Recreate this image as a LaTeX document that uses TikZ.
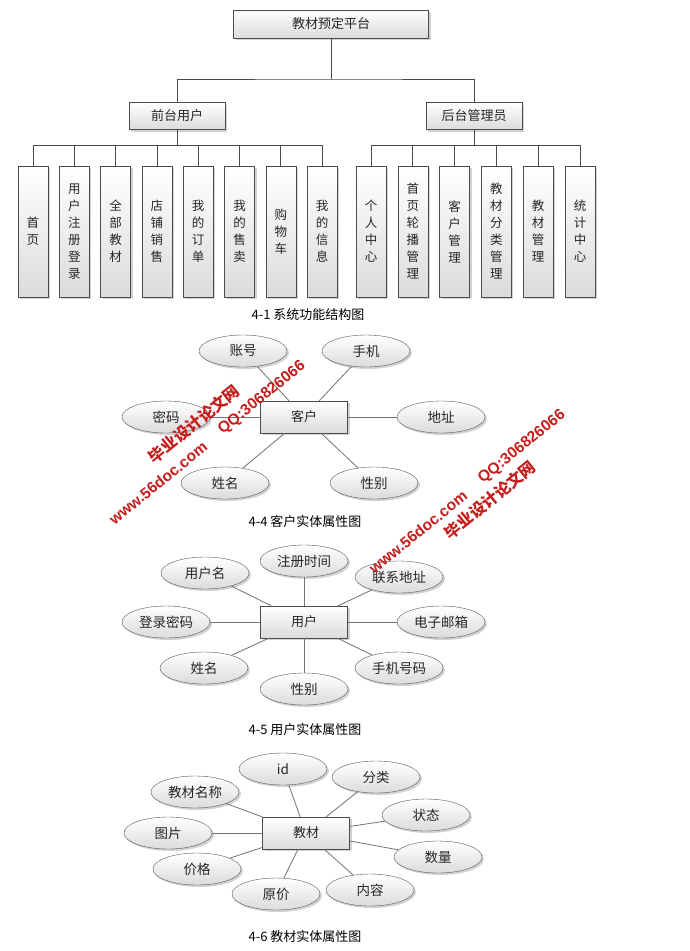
\documentclass[tikz,border=0pt]{standalone}
\usepackage{fontspec}
\setmainfont{Noto Sans CJK SC}
\newfontfamily\wmlatin{Liberation Sans}
\usepackage{tikz}
\usetikzlibrary{shapes.geometric, shadows}
\definecolor{wmred}{HTML}{C41F1C}
\definecolor{treeline}{HTML}{4A4A4A}

\tikzset{
  softshadow/.style={drop shadow={shadow xshift=2pt, shadow yshift=-2pt, fill=black!35, opacity=0.5}},
  box/.style={draw=black!70, top color=white, bottom color=black!14, softshadow,
    inner sep=0pt, text=black!85, font=\fontsize{13}{15}\selectfont},
  leaf/.style={box, minimum width=30pt, minimum height=131pt, align=center,
    font=\fontsize{12.5}{17}\selectfont},
  entity/.style={box, minimum width=87pt, minimum height=32pt},
  attr/.style={ellipse, draw=black!65, top color=white, bottom color=black!14, softshadow,
    minimum width=88pt, minimum height=32pt, inner sep=0pt, text=black!85,
    font=\fontsize{13.5}{15}\selectfont},
  tree/.style={draw=treeline, line width=0.8pt},
  link/.style={draw=black!55, line width=0.8pt},
  caption/.style={font=\fontsize{13}{15}\selectfont},
  wmcn/.style={text=wmred, rotate=39, font=\fontsize{16}{16}\bfseries},
  wmen/.style={text=wmred, rotate=39, font=\wmlatin\fontsize{15.5}{16}\bfseries},
}

\begin{document}
\begin{tikzpicture}[x=1pt, y=-1pt]
  \fill[white] (0,0) rectangle (690,951);
  \useasboundingbox (0,0) rectangle (690,951);

  % Function structure tree
  \node[box, minimum width=195pt, minimum height=28pt] (root) at (331,24) {教材预定平台};
  \node[box, minimum width=96pt, minimum height=27pt] (front) at (177,116) {前台用户};
  \node[box, minimum width=96pt, minimum height=27pt] (back) at (474,116) {后台管理员};
  \coordinate (rootjoin) at (331,79);
  \coordinate (frontjoin) at (177,145);
  \coordinate (backjoin) at (474,145);
  \draw[tree] (root) -- (rootjoin);
  \draw[tree] (front.north) |- (rootjoin) -| (back.north);
  \draw[tree] (front) -- (frontjoin);
  \draw[tree] (back) -- (backjoin);

  \foreach \i/\lbl in {0/{首\\页}, 1/{用\\户\\注\\册\\登\\录}, 2/{全\\部\\教\\材},
    3/{店\\铺\\销\\售}, 4/{我\\的\\订\\单}, 5/{我\\的\\售\\卖},
    6/{购\\物\\车}, 7/{我\\的\\信\\息}} {
    \node[leaf] (f\i) at (33+41.3*\i, 231.5) {\lbl};
    \draw[tree] (frontjoin) -| (f\i.north);
  }
  \foreach \i/\lbl in {0/{个\\人\\中\\心}, 1/{首\\页\\轮\\播\\管\\理}, 2/{客\\户\\管\\理},
    3/{教\\材\\分\\类\\管\\理}, 4/{教\\材\\管\\理}, 5/{统\\计\\中\\心}} {
    \node[leaf] (b\i) at (371+41.8*\i, 231.5) {\lbl};
    \draw[tree] (backjoin) -| (b\i.north);
  }
  \node[caption] (cap1) at (308,315) {4-1 系统功能结构图};

  % Customer entity
  \node[entity] (kehu) at (304,417) {客户};
  \foreach \n/\x/\y/\lbl in {zh/243/351/账号, sj/366/351/手机, mm/166/417/密码,
    dz/441/417/地址, xm/225/483/姓名, xb/374/483/性别} {
    \node[attr] (k\n) at (\x,\y) {\lbl};
    \draw[link] (k\n) -- (kehu);
  }
  \node[caption] (cap4) at (305,522) {4-4 客户实体属性图};

  % User entity
  \node[entity] (yonghu) at (304,622) {用户};
  \foreach \n/\x/\y/\lbl in {zc/304/561/注册时间, ym/205/573/用户名, lx/399/577/联系地址,
    dl/166/622/登录密码, dy/441/622/电子邮箱, xm/204/668/姓名,
    sj/399/668/手机号码, xb/304/689/性别} {
    \node[attr] (y\n) at (\x,\y) {\lbl};
    \draw[link] (y\n) -- (yonghu);
  }
  \node[caption] (cap5) at (305,730) {4-5 用户实体属性图};

  % Textbook entity
  \node[entity] (jiaocai) at (306,833) {教材};
  \foreach \n/\x/\y/\lbl in {id/283/769/id, fl/376/777/分类, mc/195/792/教材名称,
    zt/426/815/状态, tp/168/833/图片, sl/438/857/数量, jg/197/869/价格,
    nr/370/890/内容, yj/276/894/原价} {
    \node[attr] (j\n) at (\x,\y) {\lbl};
    \draw[link] (j\n) -- (jiaocai);
  }
  \node[caption] (cap6) at (305,937) {4-6 教材实体属性图};

  % Watermarks
  \node[wmcn] (wm1a) at (194,424) {毕业设计论文网};
  \node[wmen] (wm1b) at (262,398) {QQ:306826066};
  \node[wmen] (wm1c) at (158,483) {www.56doc.com};
  \node[wmcn] (wm2a) at (490,500) {毕业设计论文网};
  \node[wmen] (wm2b) at (522,447) {QQ:306826066};
  \node[wmen] (wm2c) at (418,532) {www.56doc.com};
\end{tikzpicture}
\end{document}
